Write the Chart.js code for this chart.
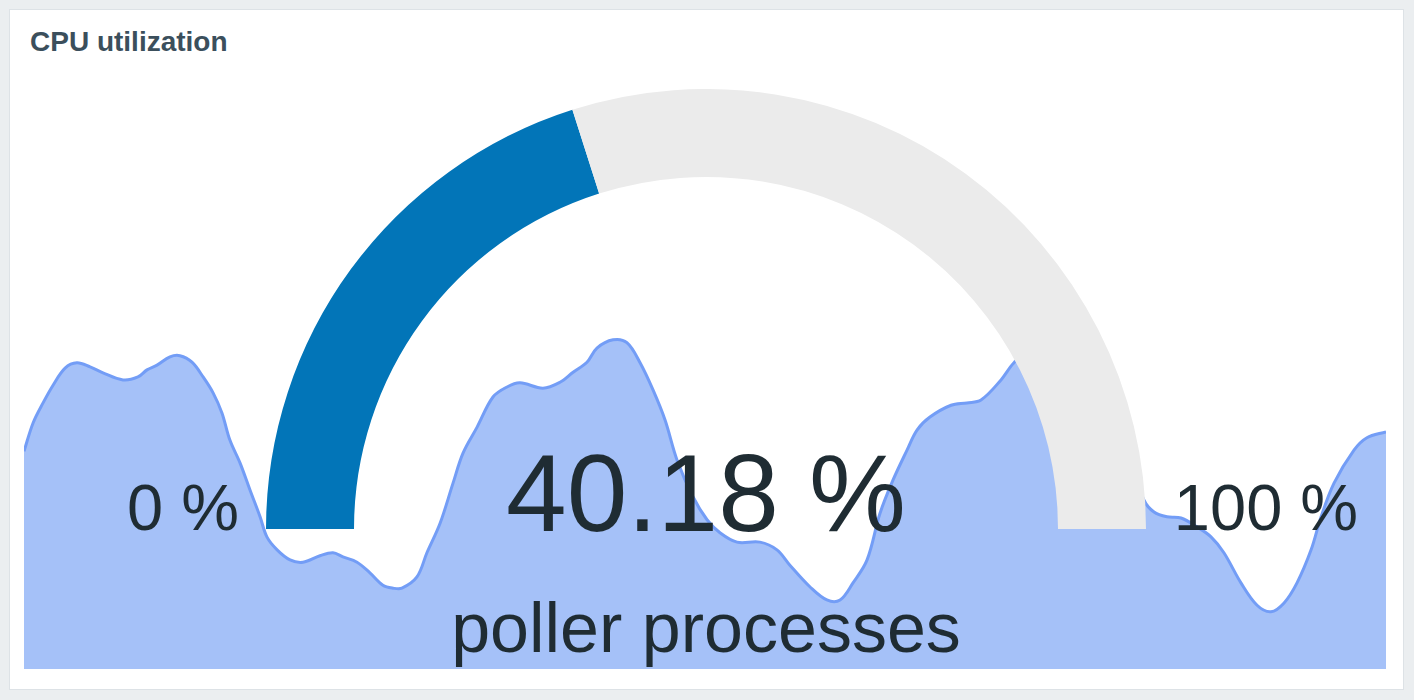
<!DOCTYPE html>
<html>
<head>
<meta charset="utf-8">
<script src="https://cdn.jsdelivr.net/npm/chart.js@4.4.1/dist/chart.umd.min.js"></script>
<style>
    body { margin: 0; background: #ebeef0; font-family: "Liberation Sans", Arial, sans-serif; }
    #panel { position: absolute; left: 9px; top: 9px; width: 1393px; height: 679px; background: #fff; border: 1px solid #dde2e6; }
    .txt { position: absolute; color: #1f2c33; white-space: nowrap; line-height: 1; }
    canvas { position: absolute; }
</style>
</head>
<body>
<div id="panel"></div>
<div class="txt" style="left:30px; top:28px; font-size:28px; font-weight:bold; color:#3b4f5c;">CPU utilization</div>
<canvas id="historyChart" width="1362" height="590" style="left:24px; top:79px;"></canvas>
<canvas id="gaugeChart" width="880" height="440" style="left:266px; top:89px;"></canvas>
<div class="txt" id="minLabel" style="left:83px; width:200px; text-align:center; top:475px; font-size:65px;"></div>
<div class="txt" id="maxLabel" style="left:1166px; width:200px; text-align:center; top:475px; font-size:65px;"></div>
<div class="txt" id="valueLabel" style="left:406px; width:600px; text-align:center; top:439px; font-size:109px;"></div>
<div class="txt" id="descLabel" style="left:306px; width:800px; text-align:center; top:593px; font-size:70px;"></div>
<script>
// gauge
const gaugeMin = 0;
const gaugeMax = 100;
const gaugeValue = 40.18;
const gaugeUnits = '%';
const gaugeDescription = 'poller processes';

// history behind the gauge (minutes over the last hour, CPU %)
const historyMinutes = [0, 0.40, 0.84, 1.28, 1.81, 2.33, 2.91, 3.48, 4.36, 5.02, 5.42, 5.86, 6.43, 6.87, 7.40, 7.89, 8.33, 8.72, 9.07, 9.52,
    9.96, 10.40, 10.70, 11.15, 11.72, 12.29, 13.04, 13.61, 14.05, 14.67, 15.24, 15.81, 16.26, 16.65, 17.31, 17.75, 18.33, 18.90, 19.34, 19.96,
    20.66, 21.28, 21.85, 22.86, 23.61, 24.19, 24.80, 25.24, 25.95, 26.56, 27.14, 27.71, 28.24, 28.77, 29.47, 30.09, 30.66, 31.41, 32.42, 33.17,
    33.74, 34.63, 35.37, 35.95, 36.52, 37.14, 37.71, 38.28, 38.90, 39.34, 39.91, 40.84, 41.54, 42.16, 43.04, 43.61, 44.54, 45.64, 46.96, 48.28,
    49.34, 49.78, 50.35, 50.97, 51.67, 52.29, 52.86, 53.61, 54.32, 54.93, 55.51, 56.08, 56.70, 57.14, 57.71, 58.59, 59.16, 60];
const historyValues = [36.9, 41.7, 45.1, 48.1, 51.0, 51.9, 51.2, 50.2, 49.0, 49.5, 50.7, 51.5, 52.9, 53.1, 52.0, 49.5, 46.8, 43.4, 38.8, 34.9,
    30.3, 25.8, 22.4, 20.2, 18.5, 18.1, 19.2, 19.7, 19.0, 18.1, 16.3, 14.2, 13.7, 13.7, 15.6, 19.7, 24.7, 31.5, 36.6, 41.0,
    46.1, 47.8, 48.5, 47.6, 48.6, 50.3, 52.0, 54.4, 55.8, 55.3, 51.9, 47.3, 42.2, 35.4, 29.2, 25.3, 23.1, 21.5, 21.5, 20.2,
    17.6, 13.9, 11.7, 11.7, 14.6, 18.5, 26.4, 32.0, 37.1, 40.5, 42.7, 44.7, 45.1, 45.6, 49.0, 51.9, 54.9, 55.8, 50.7, 38.8,
    28.6, 26.6, 25.8, 25.6, 24.1, 22.4, 19.7, 14.6, 10.8, 9.7, 11.2, 14.6, 20.2, 25.8, 31.5, 37.1, 39.2, 40.2];

document.getElementById('minLabel').textContent = gaugeMin + ' ' + gaugeUnits;
document.getElementById('maxLabel').textContent = gaugeMax + ' ' + gaugeUnits;
document.getElementById('valueLabel').textContent = gaugeValue.toFixed(2) + ' ' + gaugeUnits;
document.getElementById('descLabel').textContent = gaugeDescription;

const points = historyMinutes.map((m, i) => ({ x: m, y: historyValues[i] }));

new Chart(document.getElementById('historyChart'), {
    type: 'line',
    data: {
        datasets: [{
            data: points,
            borderColor: '#739df6',
            backgroundColor: '#a5c1f8',
            borderWidth: 3,
            fill: 'origin',
            tension: 0.35,
            pointRadius: 0
        }]
    },
    options: {
        responsive: false,
        animation: false,
        layout: { padding: 0 },
        scales: {
            x: { type: 'linear', min: 0, max: 60, display: false },
            y: { min: 0, max: 100, display: false }
        },
        plugins: { legend: { display: false }, tooltip: { enabled: false } }
    }
});

new Chart(document.getElementById('gaugeChart'), {
    type: 'doughnut',
    data: {
        labels: ['value', 'rest'],
        datasets: [{
            data: [gaugeValue - gaugeMin, gaugeMax - gaugeValue],
            backgroundColor: ['#0275b8', '#ebebeb'],
            borderWidth: 0
        }]
    },
    options: {
        responsive: false,
        animation: false,
        rotation: -90,
        circumference: 180,
        cutout: '80%',
        layout: { padding: 0 },
        plugins: { legend: { display: false }, tooltip: { enabled: false } }
    }
});
</script>
</body>
</html>
